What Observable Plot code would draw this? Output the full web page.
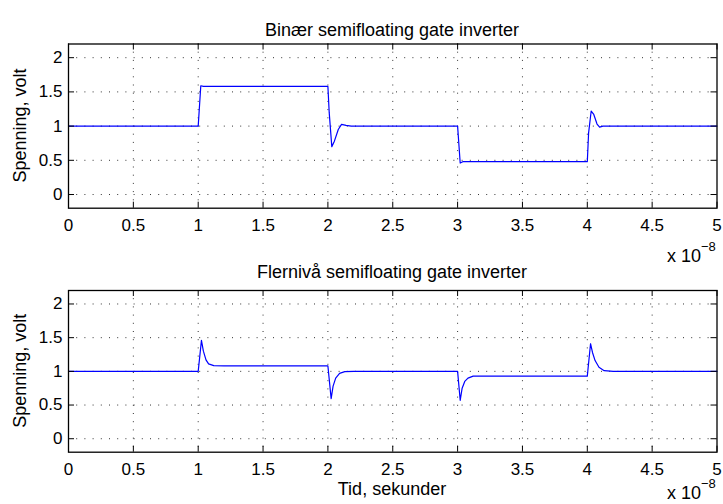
<!DOCTYPE html>
<html>
<head>
<meta charset="utf-8">
<script src="https://cdn.jsdelivr.net/npm/d3@7"></script>
<script src="https://cdn.jsdelivr.net/npm/@observablehq/plot@0.6"></script>
<style>
  body { margin: 0; background: #fff; }
  #fig { position: relative; width: 723px; height: 504px; overflow: hidden; background: #fff; }
  #fig > svg { position: absolute; left: 0; }
  #overlay { top: 0; pointer-events: none; }
</style>
</head>
<body>
<div id="fig"></div>
<script>
// Time axis is in units of 1e-8 s (the axis carries an "x 10^-8" multiplier).
const tidBinaer = [0, 1.0, 1.02, 1.04, 2.0, 2.01, 2.03, 2.05, 2.08, 2.105, 2.14, 2.18,
  3.0, 3.02, 3.04, 4.0, 4.01, 4.03, 4.05, 4.075, 4.095, 4.12, 5.0];
const spenningBinaer = [1.0, 1.0, 1.59, 1.58, 1.58, 1.2, 0.70, 0.78, 0.95, 1.025, 1.01, 1.0,
  1.0, 0.46, 0.48, 0.48, 0.9, 1.22, 1.17, 1.03, 0.985, 1.0, 1.0];

const tidFlerniva = [0, 1.0, 1.025, 1.04, 1.06, 1.08, 1.12, 1.2, 2.0, 2.025, 2.04, 2.06, 2.09, 2.13, 2.2,
  3.0, 3.02, 3.035, 3.055, 3.08, 3.12, 4.0, 4.025, 4.04, 4.06, 4.09, 4.13, 4.2, 5.0];
const spenningFlerniva = [1.0, 1.0, 1.46, 1.30, 1.17, 1.11, 1.085, 1.08, 1.08, 0.595, 0.78, 0.9, 0.97, 0.995, 1.0,
  1.0, 0.57, 0.75, 0.85, 0.9, 0.93, 0.93, 1.41, 1.28, 1.16, 1.06, 1.01, 1.0, 1.0];

const xTicks = [0, 0.5, 1, 1.5, 2, 2.5, 3, 3.5, 4, 4.5, 5];
const yTicks = [0, 0.5, 1, 1.5, 2];
const titler = ["Binær semifloating gate inverter", "Flernivå semifloating gate inverter"];
const yEtikett = "Spenning, volt";
const xEtikett = "Tid, sekunder";

const FONT = "'Liberation Sans', Arial, Helvetica, sans-serif";
const W = 723;
const ML = 68, MR = 6.5;
const TICK = 6;

function panel(tid, spenning, top, height, mTop, mBottom) {
  const data = tid.map((t, i) => ({t, v: spenning[i]}));
  const ih = height - mTop - mBottom;
  const iw = W - ML - MR;
  const svg = Plot.plot({
    width: W,
    height,
    marginTop: mTop,
    marginBottom: mBottom,
    marginLeft: ML,
    marginRight: MR,
    style: {fontFamily: FONT, fontSize: "17px", color: "#000", background: "transparent"},
    x: {domain: [0, 5], ticks: xTicks},
    y: {domain: [-0.2, 2.2], ticks: yTicks},
    marks: [
      Plot.gridX(xTicks.slice(1, -1), {stroke: "#000", strokeOpacity: 0.8, strokeDasharray: "1,7.2"}),
      Plot.gridY(yTicks, {stroke: "#000", strokeOpacity: 0.8, strokeDasharray: "1,7.2"}),
      Plot.line(data, {x: "t", y: "v", stroke: "#0000ff", strokeWidth: 1.2}),
      // inward tick marks on all four sides
      Plot.tickX(xTicks, {x: d => d, insetTop: ih - TICK, stroke: "#000"}),
      Plot.tickX(xTicks, {x: d => d, insetBottom: ih - TICK, stroke: "#000"}),
      Plot.tickY(yTicks, {y: d => d, insetRight: iw - TICK, stroke: "#000"}),
      Plot.tickY(yTicks, {y: d => d, insetLeft: iw - TICK, stroke: "#000"}),
      Plot.axisX(xTicks, {tickSize: 0, tickPadding: 11, tickFormat: d => String(d), label: null, fill: "#000"}),
      Plot.axisY(yTicks, {tickSize: 0, tickPadding: 6, tickFormat: d => String(d), label: null, fill: "#000"}),
      Plot.frame({stroke: "#000", strokeWidth: 1.3})
    ]
  });
  svg.style.top = top + "px";
  return svg;
}

const fig = document.getElementById("fig");
fig.appendChild(panel(tidBinaer, spenningBinaer, 0, 250, 43.5, 42.3));
fig.appendChild(panel(tidFlerniva, spenningFlerniva, 250, 254, 40, 52.3));

// Titles, axis labels and the x-axis multiplier
const ov = d3.create("svg")
  .attr("id", "overlay")
  .attr("width", W).attr("height", 504)
  .style("font-family", FONT)
  .style("font-size", "18px");

ov.append("text").attr("x", 392).attr("y", 35.7).attr("text-anchor", "middle").text(titler[0]);
ov.append("text").attr("x", 392).attr("y", 277.8).attr("text-anchor", "middle").text(titler[1]);

[125.5, 370.8].forEach(cy => {
  ov.append("text")
    .attr("transform", `translate(25.5,${cy}) rotate(-90)`)
    .attr("text-anchor", "middle")
    .text(yEtikett);
});

ov.append("text").attr("x", 392).attr("y", 495).attr("text-anchor", "middle").text(xEtikett);

[262.4, 499].forEach(by => {
  const t = ov.append("text").attr("x", 667).attr("y", by);
  t.append("tspan").text("x 10");
  t.append("tspan").attr("dy", -11.5).style("font-size", "13px").text("\u22128");
});

fig.appendChild(ov.node());
</script>
</body>
</html>
